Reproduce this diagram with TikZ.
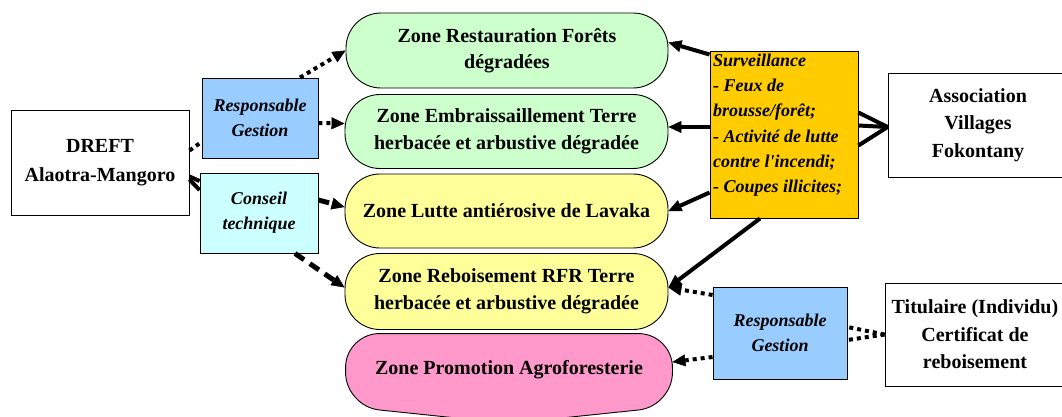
\documentclass[tikz,border=0pt]{standalone}
\usepackage{fontspec}
\setmainfont{Liberation Serif}
\usetikzlibrary{arrows.meta,calc,backgrounds}

\definecolor{zgreen}{HTML}{CCFFCC}
\definecolor{zyellow}{HTML}{FFFF99}
\definecolor{zpink}{HTML}{FF99CC}
\definecolor{rblue}{HTML}{99CCFF}
\definecolor{ccyan}{HTML}{CCFFFF}
\definecolor{sorange}{HTML}{FFCC00}

\tikzset{
  actor/.style={draw, line width=0.9pt, fill=white, align=center, inner sep=0pt,
    font=\bfseries\fontsize{20}{27.5}\selectfont},
  zone/.style={draw, line width=0.9pt, rounded corners=35pt, align=center, inner sep=0pt,
    font=\bfseries\fontsize{20}{26.5}\selectfont},
  role/.style={draw, line width=0.9pt, align=center, inner sep=0pt,
    font=\bfseries\itshape\fontsize{18}{25}\selectfont},
  tip/.style={-{Triangle[length=13pt,width=12pt,line width=0.5pt]}},
  solidlink/.style={line width=4pt},
  dotlink/.style={line width=4pt, dash pattern=on 4pt off 4pt},
  dashlink/.style={line width=5pt, dash pattern=on 11pt off 7pt},
}

\begin{document}
\begin{tikzpicture}[x=1pt,y=-1pt]
\useasboundingbox (0,0) rectangle (1062,416);

% actors
\node[actor, minimum width=178pt, minimum height=105pt,
      font=\bfseries\fontsize{20}{29}\selectfont] (dreft) at (100,162.5) {DREFT\\Alaotra-Mangoro};
\node[actor, minimum width=180pt, minimum height=104pt] (assoc) at (978,125) {Association\\Villages\\Fokontany};
\node[actor, minimum width=180pt, minimum height=103pt] (titul) at (975,334.5) {Titulaire (Individu)\\Certificat de\\reboisement};

% roles
\node[role, fill=rblue, minimum width=116pt, minimum height=80pt] (rgA) at (260,118) {Responsable\\Gestion};
\node[role, fill=ccyan, minimum width=118pt, minimum height=80pt] (ct) at (259,213) {Conseil\\technique};
\node[role, fill=rblue, minimum width=134pt, minimum height=92pt] (rgB) at (780,333) {Responsable\\Gestion};

% zones
\node[zone, fill=zgreen, minimum width=322pt, minimum height=75pt] (z1) at (507,50.5) {Zone Restauration Forêts\\dégradées};
\node[zone, fill=zgreen, minimum width=323pt, minimum height=74pt] (z2) at (506.5,131.5) {Zone Embraissaillement Terre\\herbacée et arbustive dégradée};
\node[zone, fill=zyellow, minimum width=323pt, minimum height=74pt] (z3) at (506.5,211) {Zone Lutte antiérosive de Lavaka};
\node[zone, fill=zyellow, minimum width=323pt, minimum height=76pt] (z4) at (506.5,291.5) {Zone Reboisement RFR Terre\\herbacée et arbustive dégradée};
\node[zone, draw=none, minimum width=326pt, minimum height=72pt] (z5) at (509,370) {Zone Promotion Agroforesterie};
\begin{scope}[on background layer]
  \draw[line width=0.9pt, fill=zpink, rounded corners=34pt]
    (z5.north) -- (z5.north east) -- (z5.south east) -- ($(z5.south)+(0,17)$)
    -- (z5.south west) -- (z5.north west) -- cycle;
\end{scope}

% surveillance box
\node[draw, line width=0.9pt, fill=sorange, minimum width=148pt, minimum height=167pt, inner sep=0pt]
  (surv) at (784,134.5)
  {\begin{minipage}[t][161pt][t]{142pt}\raggedright\bfseries\itshape\fontsize{18}{25.2}\selectfont
   Surveillance\\
   - Feux de\\
   brousse/forêt;\\
   - Activité de lutte\\
   contre l\textquotesingle incendi;\\
   - Coupes illicites;
   \end{minipage}};

% links from DREFT
\draw[dotlink] ($(dreft.east)+(0,-12)$) -- ($(rgA.west)+(0,24)$);
\draw[dotlink, tip] ($(rgA.north)+(40,0)$) -- (z1.west);
\draw[dotlink, tip] ($(rgA.east)+(0,5)$) -- ($(z2.west)+(0,-8)$);
\draw[solidlink] ($(dreft.east)+(0,14)$) -- ($(ct.west)+(0,-32)$);
\draw[solidlink] ($(dreft.east)+(0,17)$) -- ($(ct.west)+(0,-23)$);
\draw[dashlink, tip] ($(ct.east)+(0,-13)$) -- ($(z3.west)+(0,-4)$);
\draw[dashlink, tip] ($(ct.south)+(36,0)$) -- ($(z4.west)+(0,-4)$);

% surveillance links
\draw[solidlink, tip] ($(surv.west)+(0,-80)$) -- ($(z1.east)+(0,-8)$);
\draw[solidlink, tip] ($(surv.west)+(0,-7.5)$) -- ($(z2.east)+(0,-4.5)$);
\draw[solidlink, tip] ($(surv.west)+(0,58)$) -- (z3.east);
\draw[solidlink, tip] ($(surv.south)+(-24,0)$) -- ($(z4.east)+(0,-4)$);
\draw[solidlink] ($(assoc.west)+(0,2)$) -- ($(surv.east)+(0,-22)$);
\draw[solidlink] ($(assoc.west)+(0,2)$) -- ($(surv.east)+(0,-9)$);
\draw[solidlink] ($(assoc.west)+(0,2)$) -- ($(surv.east)+(0,11)$);

% titulaire links
\draw[dotlink] (titul.west) -- ($(rgB.east)+(0,-6)$);
\draw[dotlink] (titul.west) -- ($(rgB.east)+(0,7)$);
\draw[dotlink, tip] ($(rgB.west)+(0,-38)$) -- ($(z4.east)+(0,-4)$);
\draw[dotlink, tip] ($(rgB.west)+(0,24)$) -- ($(z5.east)+(0,-8)$);
\end{tikzpicture}
\end{document}
